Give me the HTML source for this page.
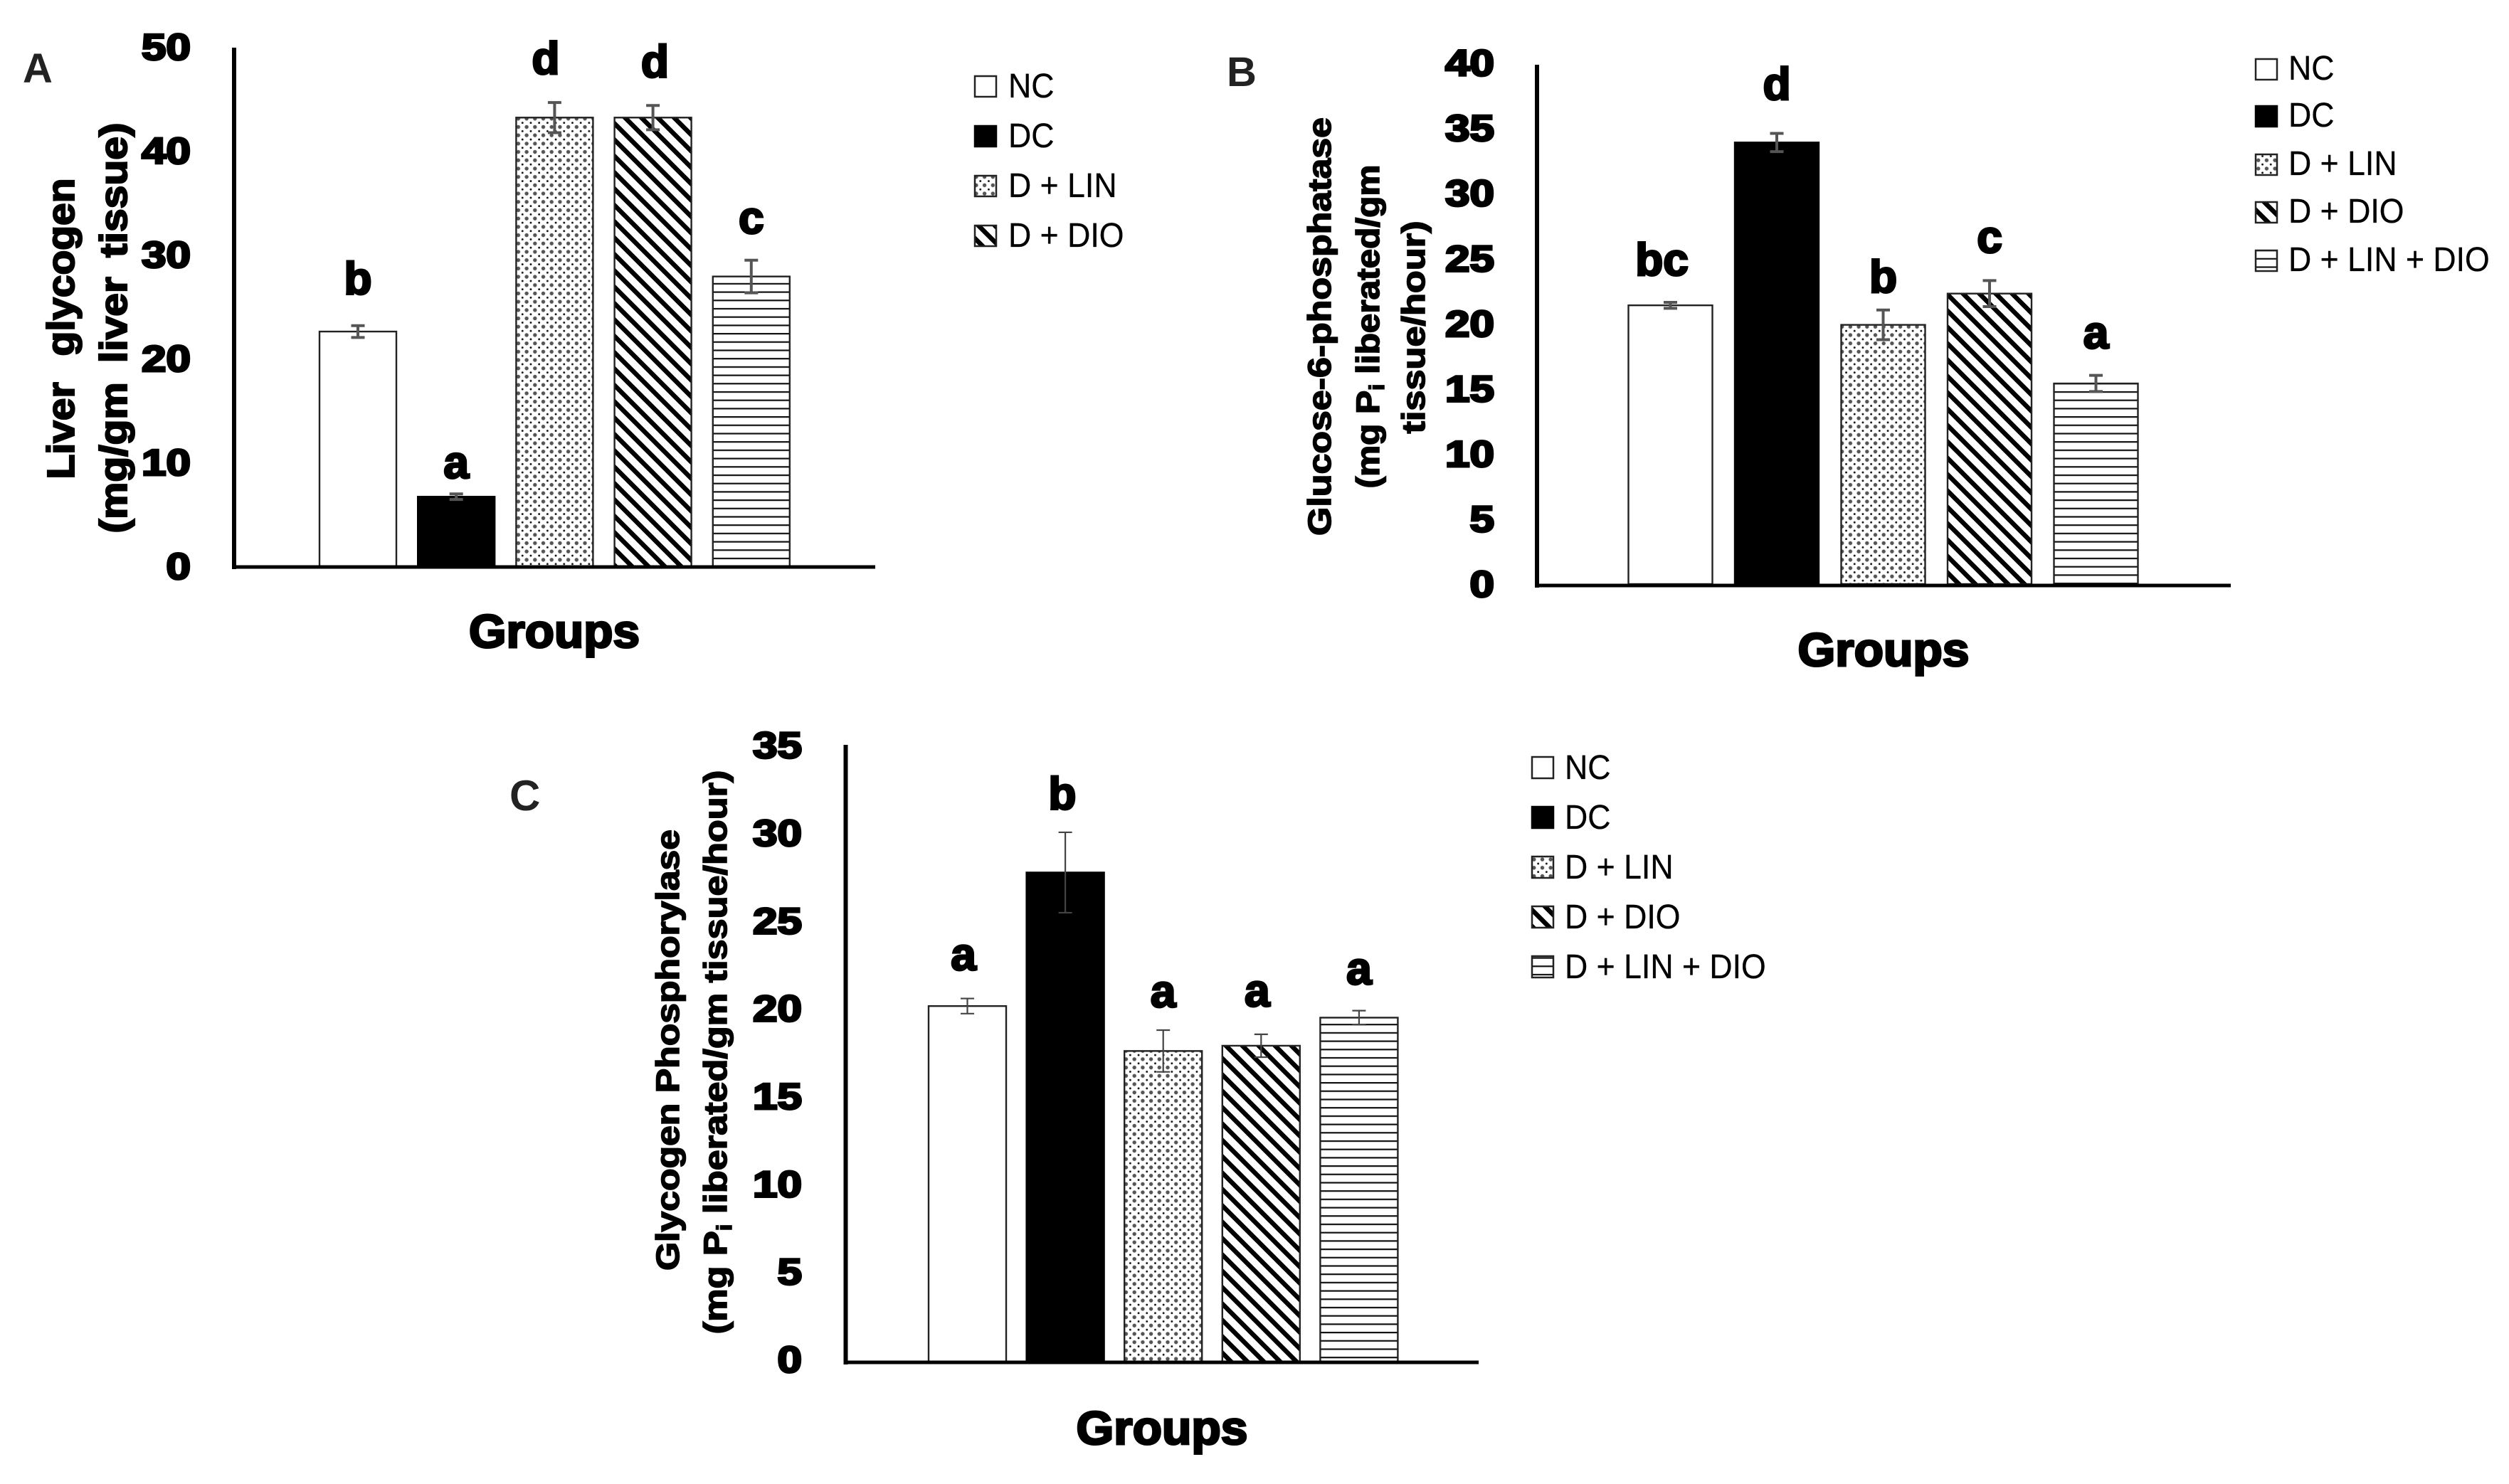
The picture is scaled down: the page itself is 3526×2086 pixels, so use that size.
<!DOCTYPE html>
<html lang="en">
<head>
<meta charset="utf-8">
<title>Liver glycogen, glucose-6-phosphatase and glycogen phosphorylase by group</title>
<style>
html,body{margin:0;padding:0;background:#fff;}
svg{display:block;}
text{font-family:"Liberation Sans",sans-serif;fill:#000;}
.heavy{font-weight:700;stroke:#000;stroke-width:2.2px;}
.black{font-weight:700;stroke:#000;stroke-width:3px;}
.legend-text{font-size:48px;stroke:#000;stroke-width:.3px;}
.panel{font-weight:700;font-size:58px;fill:#222;}
</style>
</head>
<body>
<svg id="figure" xmlns="http://www.w3.org/2000/svg" width="3526" height="2086" viewBox="0 0 3526 2086">
<defs>
<pattern id="dots" patternUnits="userSpaceOnUse" width="11.7" height="11.7">
<rect width="11.7" height="11.7" fill="#fff"/>
<circle cx="3" cy="3" r="2.7" fill="#555"/>
<circle cx="8.85" cy="8.85" r="1.4" fill="#111"/>
</pattern>
<pattern id="stripes" patternUnits="userSpaceOnUse" width="23" height="23">
<rect width="23" height="23" fill="#fff"/>
<path d="M-6,-6L29,29M-6,17L6,29M17,-6L29,6" stroke="#000" stroke-width="6.5" fill="none"/>
</pattern>
<pattern id="hlines" patternUnits="userSpaceOnUse" width="20" height="11.7">
<rect width="20" height="11.7" fill="#fff"/>
<rect y="0" width="20" height="2.2" fill="#111"/>
</pattern>
</defs>
<rect width="3526" height="2086" fill="#fff"/>

<text class="panel" x="32" y="116">A</text>
<text class="panel" x="1724" y="121">B</text>
<text class="panel" x="716" y="1139" style="font-size:60px">C</text>

<text class="heavy" text-anchor="middle" font-size="54" word-spacing="20" textLength="423" lengthAdjust="spacingAndGlyphs" transform="translate(104,462) rotate(-90)">Liver glycogen</text>
<text class="heavy" text-anchor="middle" font-size="54" word-spacing="10" textLength="577" lengthAdjust="spacingAndGlyphs" transform="translate(178,461) rotate(-90)">(mg/gm liver tissue)</text>
<text class="black" text-anchor="middle" font-size="66" textLength="240" lengthAdjust="spacingAndGlyphs" x="779" y="910">Groups</text>

<text class="heavy" text-anchor="middle" font-size="45" style="stroke-width:1.6px" textLength="588" lengthAdjust="spacingAndGlyphs" transform="translate(1870,459) rotate(-90)">Glucose-6-phosphatase</text>
<text class="heavy" text-anchor="middle" font-size="45" style="stroke-width:1.6px" transform="translate(1938,459) rotate(-90) scale(1.1,1)">(mg P<tspan font-size="30" dy="7">i</tspan><tspan dy="-7"> liberated/gm</tspan></text>
<text class="heavy" text-anchor="middle" font-size="45" style="stroke-width:1.6px" textLength="299" lengthAdjust="spacingAndGlyphs" transform="translate(2002,460) rotate(-90)">tissue/hour)</text>
<text class="black" text-anchor="middle" font-size="66" textLength="241" lengthAdjust="spacingAndGlyphs" x="2647" y="936">Groups</text>

<text class="heavy" text-anchor="middle" font-size="45" style="stroke-width:1.6px" textLength="620" lengthAdjust="spacingAndGlyphs" transform="translate(954,1476) rotate(-90)">Glycogen Phosphorylase</text>
<text class="heavy" text-anchor="middle" font-size="45" style="stroke-width:1.6px" transform="translate(1021,1479) rotate(-90) scale(1.16,1)">(mg P<tspan font-size="30" dy="7">i</tspan><tspan dy="-7"> liberated/gm tissue/hour)</tspan></text>
<text class="black" text-anchor="middle" font-size="66" textLength="241" lengthAdjust="spacingAndGlyphs" x="1633" y="2030">Groups</text>

<g>
<rect x="1370" y="107" width="30" height="29" fill="#fff" stroke="#222" stroke-width="2.5"/>
<text class="legend-text" transform="translate(1417,137) scale(.93,1)">NC</text>
<rect x="1370" y="177" width="30" height="29" fill="#000" stroke="#000" stroke-width="2.5"/>
<text class="legend-text" transform="translate(1417,207) scale(.93,1)">DC</text>
<rect x="1370" y="247" width="30" height="29" fill="url(#dots)" stroke="#222" stroke-width="2.5"/>
<text class="legend-text" transform="translate(1417,277) scale(.93,1)">D + LIN</text>
<rect x="1370" y="317" width="30" height="29" fill="url(#stripes)" stroke="#222" stroke-width="2.5"/>
<text class="legend-text" transform="translate(1417,347) scale(.93,1)">D + DIO</text>
</g>

<g>
<rect x="3170" y="83" width="30" height="29" fill="#fff" stroke="#222" stroke-width="2.5"/>
<text class="legend-text" transform="translate(3216,112) scale(.93,1)">NC</text>
<rect x="3170" y="149" width="30" height="29" fill="#000" stroke="#000" stroke-width="2.5"/>
<text class="legend-text" transform="translate(3216,178) scale(.93,1)">DC</text>
<rect x="3170" y="217" width="30" height="29" fill="url(#dots)" stroke="#222" stroke-width="2.5"/>
<text class="legend-text" transform="translate(3216,246) scale(.93,1)">D + LIN</text>
<rect x="3170" y="284" width="30" height="29" fill="url(#stripes)" stroke="#222" stroke-width="2.5"/>
<text class="legend-text" transform="translate(3216,313) scale(.93,1)">D + DIO</text>
<rect x="3170" y="352" width="30" height="29" fill="url(#hlines)" stroke="#222" stroke-width="2.5"/>
<text class="legend-text" transform="translate(3216,381) scale(.93,1)">D + LIN + DIO</text>
</g>

<g>
<rect x="2153" y="1064" width="30" height="30" fill="#fff" stroke="#222" stroke-width="2.5"/>
<text class="legend-text" transform="translate(2199,1095) scale(.93,1)">NC</text>
<rect x="2153" y="1134" width="30" height="30" fill="#000" stroke="#000" stroke-width="2.5"/>
<text class="legend-text" transform="translate(2199,1165) scale(.93,1)">DC</text>
<rect x="2153" y="1204" width="30" height="30" fill="url(#dots)" stroke="#222" stroke-width="2.5"/>
<text class="legend-text" transform="translate(2199,1235) scale(.93,1)">D + LIN</text>
<rect x="2153" y="1274" width="30" height="30" fill="url(#stripes)" stroke="#222" stroke-width="2.5"/>
<text class="legend-text" transform="translate(2199,1305) scale(.93,1)">D + DIO</text>
<rect x="2153" y="1344" width="30" height="30" fill="url(#hlines)" stroke="#222" stroke-width="2.5"/>
<text class="legend-text" transform="translate(2199,1375) scale(.93,1)">D + LIN + DIO</text>
</g>

<g id="marks"></g>
</svg>

<script>
// Shared categories
const groupsAll = ['NC', 'DC', 'D + LIN', 'D + DIO', 'D + LIN + DIO'];
const groupFills = ['#fff', '#000', 'url(#dots)', 'url(#stripes)', 'url(#hlines)'];

// Chart A: liver glycogen
const ticksA = [0, 10, 20, 30, 40, 50];
const valuesA = [22.6, 6.7, 43.2, 43.2, 27.9];
const errorsA = [0.57, 0.27, 1.45, 1.17, 1.57];
const lettersA = ['b', 'a', 'd', 'd', 'c'];
const letterRaiseA = [3.6, 1.8, 4.2, 3.9, 4.15];
const letterShiftA = [0, 0, -0.09, 0.02, 0];

// Chart B: glucose-6-phosphatase
const ticksB = [0, 5, 10, 15, 20, 25, 30, 35, 40];
const valuesB = [21.4, 33.9, 19.9, 22.3, 15.4];
const errorsB = [0.23, 0.7, 1.14, 1.0, 0.62];
const lettersB = ['bc', 'd', 'b', 'c', 'a'];
const letterRaiseB = [2.3, 3.3, 2.5, 3.15, 2.7];
const letterShiftB = [-0.08, 0, 0, 0, 0];

// Chart C: glycogen phosphorylase
const ticksC = [0, 5, 10, 15, 20, 25, 30, 35];
const valuesC = [20.26, 27.87, 17.7, 18.0, 19.6];
const errorsC = [0.43, 2.29, 1.19, 0.65, 0.4];
const lettersC = ['a', 'b', 'a', 'a', 'a'];
const letterRaiseC = [2.05, 3.6, 2.5, 2.25, 1.9];
const letterShiftC = [-0.04, -0.03, 0, -0.04, 0];

const NS = 'http://www.w3.org/2000/svg';
const root = document.getElementById('marks');

function shape(parent, tag, attrs) {
  const el = document.createElementNS(NS, tag);
  for (const k in attrs) el.setAttribute(k, attrs[k]);
  parent.appendChild(el);
  return el;
}

function drawChart(c) {
  const y = function (v) { return c.base - v * c.unit; };
  const x = function (i) { return c.firstLeft + i * c.pitch; };

  const g = shape(root, 'g', {});
  
  

  c.ticks.forEach(function (t) {
    const digits = String(t).length;
    const label = shape(g, 'text', {
      class: 'black', 'text-anchor': 'end', 'font-size': 52,
      x: c.tickRight, y: y(t) + c.tickDy + 18,
      textLength: digits * 34.5, lengthAdjust: 'spacingAndGlyphs'
    });
    label.textContent = String(t);
    
    
  });

  c.values.forEach(function (v, i) {
    const cx = x(i) + c.barW / 2;
    const bar = shape(g, 'rect', {
      x: x(i), y: y(v), width: c.barW, height: y(0) - y(v),
      fill: groupFills[i], stroke: i === 1 ? '#000' : '#222', 'stroke-width': 2.4
    });
    
    

    const e = c.errors[i];
    const err = shape(g, 'path', {
      d: 'M' + cx + ',' + y(v + e) + 'V' + y(v - e) +
         'M' + (cx - 9.5) + ',' + y(v + e) + 'H' + (cx + 9.5) +
         'M' + (cx - 9.5) + ',' + y(v - e) + 'H' + (cx + 9.5),
      stroke: c.errColor, 'stroke-width': c.errW, fill: 'none'
    });
    
    

    const letter = shape(g, 'text', {
      class: 'black', 'text-anchor': 'middle', 'font-size': 64,
      x: cx + c.shifts[i] * c.pitch, y: y(v + c.raises[i])
    });
    letter.textContent = c.letters[i];
    
    
  });

  const yAxis = shape(g, 'rect', { x: c.axisX - 3, y: c.axisTop, width: 6, height: c.axisY - c.axisTop + 3, fill: '#000' });
  
  
  const xAxis = shape(g, 'rect', { x: c.axisX - 3, y: c.axisY - 2.5, width: c.axisEnd - c.axisX + 3, height: 5, fill: '#000' });
  
  
}

drawChart({
  id: 'a', ticks: ticksA, values: valuesA, errors: errorsA, letters: lettersA, raises: letterRaiseA, shifts: letterShiftA,
  base: 796, unit: 14.6, firstLeft: 449, pitch: 138.2, barW: 108,
  axisX: 329, axisTop: 67, axisY: 797, axisEnd: 1230, tickRight: 268, tickDy: 0, errW: 4, errColor: '#555'
});
drawChart({
  id: 'b', ticks: ticksB, values: valuesB, errors: errorsB, letters: lettersB, raises: letterRaiseB, shifts: letterShiftB,
  base: 821, unit: 18.31, firstLeft: 2288.5, pitch: 149.5, barW: 118,
  axisX: 2160, axisTop: 91, axisY: 823, axisEnd: 3135, tickRight: 2100, tickDy: 0, errW: 4, errColor: '#555'
});
drawChart({
  id: 'c', ticks: ticksC, values: valuesC, errors: errorsC, letters: lettersC, raises: letterRaiseC, shifts: letterShiftC,
  base: 1914, unit: 24.67, firstLeft: 1305, pitch: 137.6, barW: 109,
  axisX: 1188.5, axisTop: 1047, axisY: 1915, axisEnd: 2078, tickRight: 1127, tickDy: -3, errW: 2.2, errColor: '#444'
});
</script>
</body>
</html>
